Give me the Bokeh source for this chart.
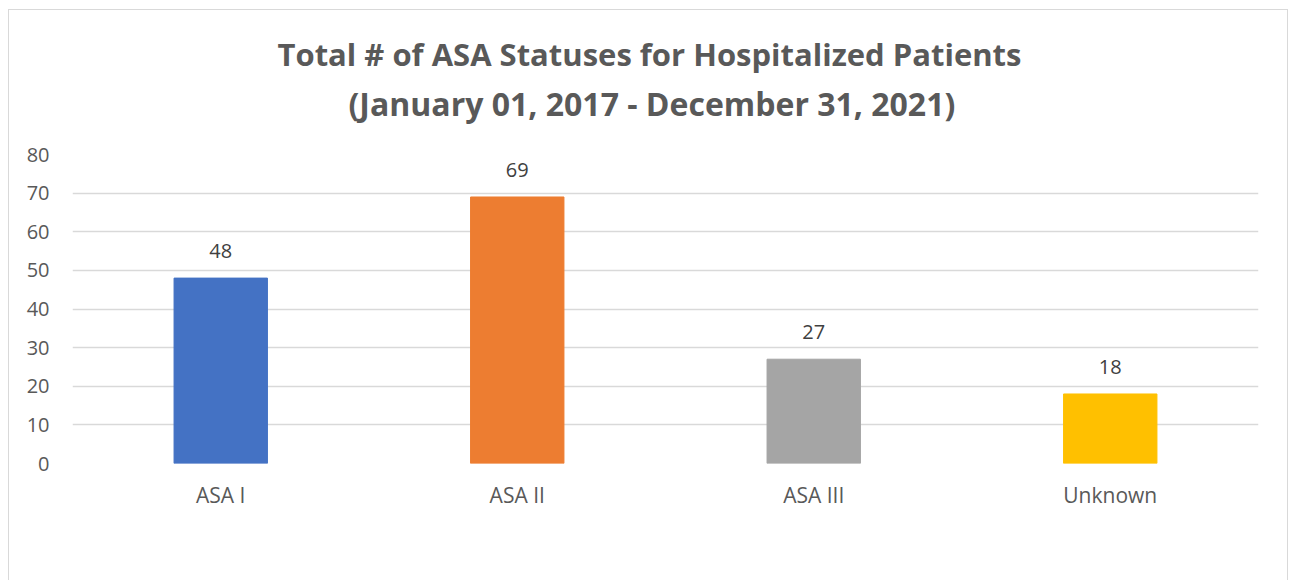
from bokeh.plotting import figure
from bokeh.models import (ColumnDataSource, FactorRange, Range1d, LabelSet, Legend,
                          LegendItem, Title, SingleIntervalTicker)
from bokeh.core.properties import value
from bokeh.embed import file_html
from bokeh.resources import INLINE

categories = ["ASA I", "ASA II", "ASA III", "Unknown"]
counts = [48, 69, 27, 18]
bar_colors = ["#4472C4", "#ED7D31", "#A5A5A5", "#FFC000"]
title_line1 = "Total # of ASA Statuses for Hospitalized Patients"
title_line2 = "(January 01, 2017 - December 31, 2021)"

FONT = "Open Sans"
TXT = "#595959"

src = ColumnDataSource(dict(cat=categories, val=counts, color=bar_colors,
                            lab=[str(v) for v in counts]))

p = figure(x_range=FactorRange(*categories), y_range=Range1d(0, 80),
           width=1278, height=570, frame_width=1186, frame_height=309,
           output_backend="svg", toolbar_location=None,
           min_border_left=63, min_border_right=29, min_border_top=144,
           min_border_bottom=117)
p.title.visible = False
p.styles = {"margin-left": "8px", "margin-top": "9px",
            "border-top": "1px solid #D9D9D9", "border-left": "1px solid #D9D9D9",
            "border-right": "1px solid #D9D9D9"}
p.outline_line_color = None
p.background_fill_color = "white"
p.border_fill_color = "white"

r = p.vbar(x="cat", top="val", width=0.315, color="color", source=src)

p.add_layout(LabelSet(x="cat", y="val", text="lab", source=src, text_align="center",
                      text_baseline="middle", y_offset=27, text_font_size="20px",
                      text_color="#404040", text_font=value(FONT)))

p.yaxis.ticker = SingleIntervalTicker(interval=10)
for ax in (p.xaxis[0], p.yaxis[0]):
    ax.axis_line_color = None
    ax.major_tick_line_color = None
    ax.minor_tick_line_color = None
    ax.major_tick_out = 0
    ax.major_tick_in = 0
    ax.minor_tick_out = 0
    ax.minor_tick_in = 0
    ax.major_label_text_font = FONT
    ax.major_label_text_color = TXT
p.yaxis.major_label_text_font_size = "20px"
p.xaxis.major_label_text_font_size = "21px"
p.yaxis.major_label_standoff = 23
p.xaxis.major_label_standoff = 17
p.xgrid.grid_line_color = None
p.ygrid.grid_line_color = "#D9D9D9"
p.ygrid.grid_line_width = 1.3

items = [LegendItem(label=c, renderers=[r], index=i) for i, c in enumerate(categories)]
legend = Legend(items=items, orientation="horizontal", location=(376, -99),
                glyph_width=16, glyph_height=16, label_standoff=5, spacing=22,
                label_text_font=FONT, label_text_font_size="21px",
                label_text_color=TXT, border_line_color=None, padding=0, margin=0,
                background_fill_alpha=0)
p.add_layout(legend, "center")

p.add_layout(Title(text=title_line2, align="left", offset=276, text_font=FONT,
                   text_font_size="32px", text_font_style="bold", text_color=TXT,
                   standoff=60), "above")
p.add_layout(Title(text=title_line1, align="left", offset=205, text_font=FONT,
                   text_font_size="31px", text_font_style="bold", text_color=TXT,
                   standoff=-50), "above")

open("out.html", "w").write(file_html(p, INLINE))
